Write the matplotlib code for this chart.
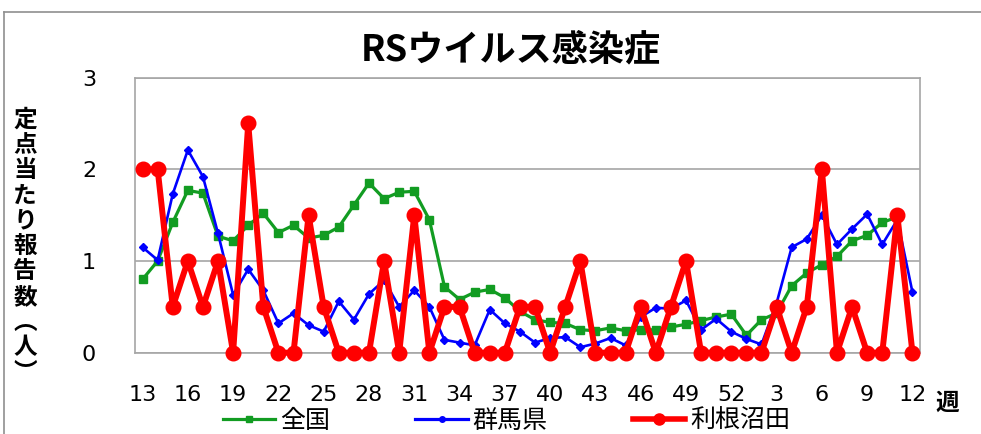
import numpy as np
import matplotlib
matplotlib.use('Agg')
import matplotlib.pyplot as plt
from matplotlib.lines import Line2D

# ---- data ----
weeks = list(range(13, 53)) + list(range(1, 13))
national = [0.80, 1.00, 1.42, 1.77, 1.74, 1.27, 1.22, 1.39, 1.52, 1.31,
            1.39, 1.25, 1.28, 1.37, 1.61, 1.85, 1.68, 1.75, 1.76, 1.45,
            0.72, 0.58, 0.66, 0.69, 0.60, 0.45, 0.36, 0.33, 0.32, 0.25,
            0.24, 0.27, 0.24, 0.25, 0.25, 0.28, 0.31, 0.35, 0.39,
            0.42, 0.19, 0.36, 0.43, 0.73, 0.87, 0.96, 1.05, 1.22, 1.28,
            1.42, 1.48, None]
gunma = [1.15, 1.01, 1.73, 2.21, 1.92, 1.30, 0.63, 0.91, 0.68, 0.32,
         0.43, 0.30, 0.23, 0.56, 0.36, 0.64, 0.79, 0.50, 0.68, 0.50,
         0.14, 0.11, 0.08, 0.47, 0.32, 0.23, 0.11, 0.16, 0.17, 0.06,
         0.10, 0.16, 0.08, 0.39, 0.49, 0.48, 0.57, 0.25, 0.37,
         0.23, 0.15, 0.09, 0.54, 1.15, 1.24, 1.50, 1.18, 1.35, 1.51,
         1.18, 1.45, 0.66]
tonenumata = [2, 2, 0.5, 1, 0.5, 1, 0, 2.5, 0.5, 0,
              0, 1.5, 0.5, 0, 0, 0, 1, 0, 1.5, 0,
              0.5, 0.5, 0, 0, 0, 0.5, 0.5, 0, 0.5, 1,
              0, 0, 0, 0.5, 0, 0.5, 1, 0, 0,
              0, 0, 0, 0.5, 0, 0.5, 2, 0, 0.5, 0,
              0, 1.5, 0]
series_names = ['全国', '群馬県', '利根沼田']
yticks = [0, 1, 2, 3]
title = 'RSウイルス感染症'
ylabel = '定点当たり報告数（人）'
xunit = '週'

plt.rcParams['font.family'] = ['DejaVu Sans', 'Noto Sans CJK JP']
CJK = ['Noto Sans CJK JP', 'DejaVu Sans']

W, H = 981, 434
fig = plt.figure(figsize=(W / 100, H / 100), dpi=100)
fig.patch.set_facecolor('white')

# outer border (top and left)
fig.add_artist(Line2D([4 / W, 1.0], [1 - 12 / H, 1 - 12 / H], color='#8f8f8f', lw=1.2))
fig.add_artist(Line2D([4 / W, 4 / W], [0, 1 - 12 / H], color='#8f8f8f', lw=1.2))

left, right, top, bottom = 135, 920, 77.6, 352.7
ax = fig.add_axes([left / W, 1 - bottom / H, (right - left) / W, (bottom - top) / H])

x = np.arange(len(weeks))
to_arr = lambda s: np.array([np.nan if v is None else v for v in s], dtype=float)

green, blue, red = '#129c22', '#0000ff', '#ff0000'
ax.plot(x, to_arr(national), color=green, lw=2.3, marker='s', ms=5.5, zorder=3, clip_on=False)
ax.plot(x, to_arr(gunma), color=blue, lw=1.9, marker='D', ms=3.8, zorder=4, clip_on=False)
ax.plot(x, to_arr(tonenumata), color=red, lw=4.3, marker='o', ms=10.5, zorder=5, clip_on=False)

ax.set_xlim(-0.5, len(weeks) - 0.5)
ax.set_ylim(0, 3)
ax.set_yticks(yticks)
ax.set_yticklabels([str(v) for v in yticks])
ax.set_xticks(x[::3])
ax.set_xticklabels([str(weeks[i]) for i in x[::3]])
ax.tick_params(axis='both', length=0, labelsize=16)
ax.tick_params(axis='x', pad=23)
ax.tick_params(axis='y', pad=28)
ax.grid(axis='y', color='#a6a6a6', lw=1.2)
ax.set_axisbelow(True)
for s in ax.spines.values():
    s.set_color('#a6a6a6')
    s.set_linewidth(1.2)

# title
fig.text(511 / W, 1 - 50 / H, title, ha='center', va='center', fontsize=26,
         fontweight='bold', family=CJK)

# vertical y label, one character per line
vmap = {'（': '︵', '）': '︶'}
chars = [vmap.get(c, c) for c in ylabel]
y0, step = 119.6, 25.3
for k, c in enumerate(chars):
    fig.text(25 / W, 1 - (y0 + k * step) / H, c, ha='center', va='center',
             fontsize=17, fontweight='bold', family=CJK)

# unit
fig.text(947 / W, 1 - 403 / H, xunit, ha='center', va='center', fontsize=17,
         fontweight='bold', family=CJK)

# legend
handles = [Line2D([], [], color=green, lw=2.3, marker='s', ms=5),
           Line2D([], [], color=blue, lw=2.3, marker='o', ms=4),
           Line2D([], [], color=red, lw=4, marker='o', ms=8)]
fig.legend(handles, series_names, loc='center', bbox_to_anchor=(506.5 / W, 1 - 421 / H),
           ncol=3, frameon=False, prop={'family': CJK, 'size': 18},
           handlelength=2.1, handletextpad=0.2, columnspacing=3.4,
           borderpad=0, borderaxespad=0)

fig.savefig('out.png', dpi=100, facecolor='white')
